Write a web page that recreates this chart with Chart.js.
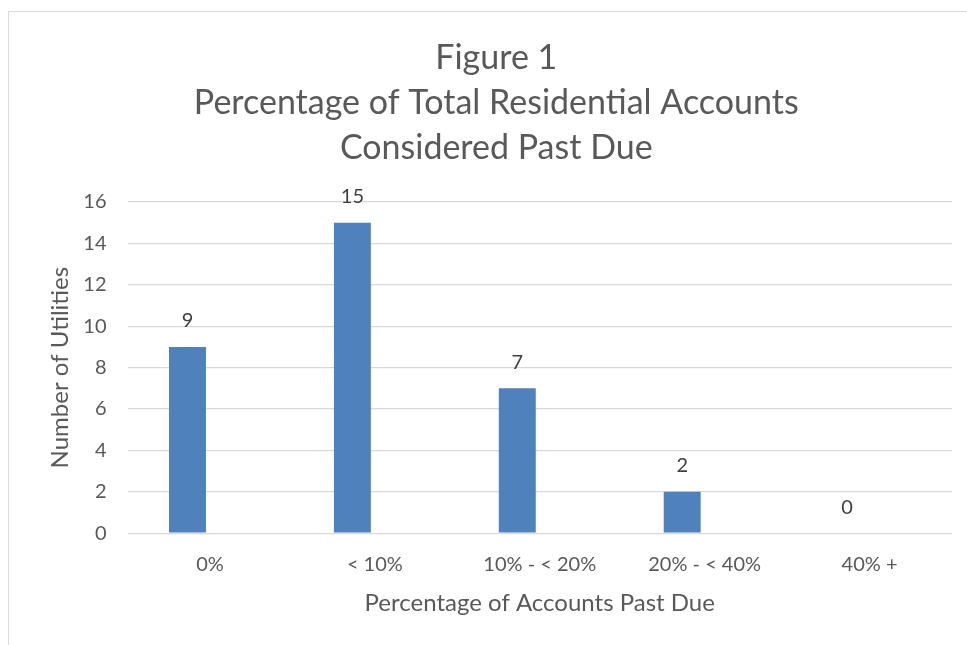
<!DOCTYPE html>
<html>
<head>
<meta charset="utf-8">
<script src="https://cdn.jsdelivr.net/npm/chart.js@4/dist/chart.umd.min.js"></script>
<style>
  html, body { margin: 0; padding: 0; background: #fff; }
  #frame { position: absolute; left: 8px; top: 11px; width: 980px; height: 660px; border: 1px solid #d9d9d9; }
  #wrap { position: absolute; left: 0; top: 0; width: 967px; height: 645px; }
</style>
</head>
<body>
<div id="frame"></div>
<div id="wrap"><canvas id="chart"></canvas></div>
<script>
const categories = ['0%', '< 10%', '10% - < 20%', '20% - < 40%', '40% +'];
const utilities = [9, 15, 7, 2, 0];
// the source chart has a second, empty series which shifts the bars left
const emptySeries = [null, null, null, null, null];
const titleLines = ['Figure 1', 'Percentage of Total Residential Accounts', 'Considered Past Due'];

const FONT = 'Lato, "Open Sans", sans-serif';

// value labels above each bar
const valueLabels = {
  id: 'valueLabels',
  afterDatasetsDraw(chart) {
    const ctx = chart.ctx;
    const meta = chart.getDatasetMeta(0);
    ctx.save();
    ctx.font = '20px ' + FONT;
    ctx.fillStyle = '#404040';
    ctx.textAlign = 'center';
    ctx.textBaseline = 'bottom';
    meta.data.forEach((bar, i) => {
      ctx.fillText(String(utilities[i]), bar.x, bar.y - 16);
    });
    ctx.restore();
  }
};

new Chart(document.getElementById('chart'), {
  type: 'bar',
  data: {
    labels: categories,
    datasets: [{
      label: 'Utilities',
      data: utilities,
      backgroundColor: '#4f81bd',
      borderWidth: 0,
      barPercentage: 0.822,
      categoryPercentage: 0.545
    }, {
      label: '',
      data: emptySeries,
      backgroundColor: '#c0504d',
      barPercentage: 0.822,
      categoryPercentage: 0.545
    }]
  },
  options: {
    responsive: true,
    maintainAspectRatio: false,
    animation: false,
    layout: { padding: { left: 40.5, right: 15, top: 36, bottom: 23.5 } },
    plugins: {
      legend: { display: false },
      tooltip: { enabled: false },
      title: {
        display: true,
        text: titleLines,
        color: '#595959',
        font: { family: FONT, size: 34, weight: 'normal', lineHeight: 45 / 34 },
        padding: { top: 0, bottom: 31 }
      }
    },
    scales: {
      x: {
        grid: { display: false },
        border: { display: false },
        ticks: { color: '#595959', font: { family: FONT, size: 20 }, padding: 11 },
        title: {
          display: true,
          text: 'Percentage of Accounts Past Due',
          color: '#595959',
          font: { family: FONT, size: 24 },
          padding: { top: 1.5, bottom: 4 }
        }
      },
      y: {
        min: 0,
        max: 16,
        ticks: { stepSize: 2, color: '#595959', font: { family: FONT, size: 20 }, padding: 21 },
        grid: { color: '#d9d9d9', lineWidth: 1.3, drawTicks: false },
        border: { display: false },
        title: {
          display: true,
          text: 'Number of Utilities',
          color: '#595959',
          font: { family: FONT, size: 24 },
          padding: { top: 5, bottom: 0 }
        },
        afterFit(axis) { axis.width = 87; }
      }
    }
  },
  plugins: [valueLabels]
});
</script>
</body>
</html>
